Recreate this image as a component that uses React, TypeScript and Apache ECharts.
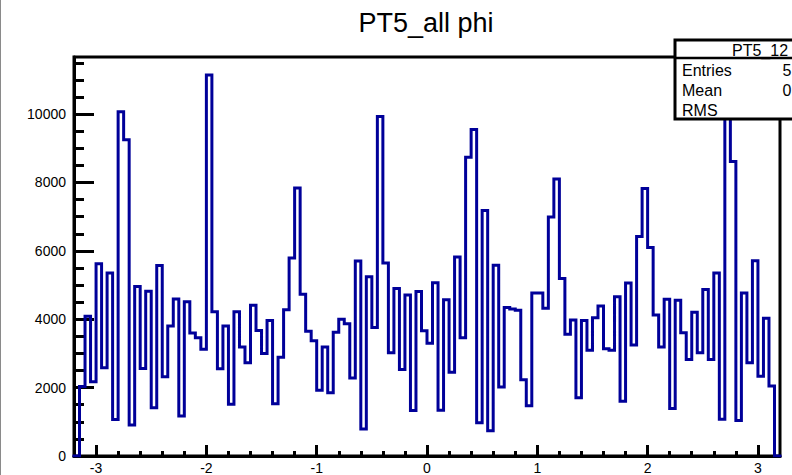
import React, { useEffect, useRef } from "react";
import * as echarts from "echarts";

const TITLE = "PT5_all phi";
const BIN_LOW = -3.2;
const BIN_WIDTH = 0.05;
// 128 bins from -3.2 to 3.2 (first and last are empty)
const COUNTS = [
  0,
  2030, 4090, 2170, 5620, 2580, 5350, 1070, 10070, 9250, 910,
  4960, 2560, 4820, 1410, 5570, 2320, 3800, 4590, 1170, 4510,
  3600, 3460, 3120, 11140, 4220, 2550, 3800, 1510, 4220, 3190,
  2730, 4410, 3670, 3000, 3960, 1530, 2890, 4280, 5790, 7835,
  4730, 3650, 3370, 1920, 3190, 1850, 3620, 4000, 3870, 2280,
  5700, 790, 5245, 3760, 9930, 5645, 3020, 4900, 2530, 4710,
  1330, 4810, 3660, 3300, 5070, 1340, 4570, 2450, 5820, 3460,
  8740, 9550, 975, 7180, 740, 5580, 2015, 4340, 4300, 4260,
  2230, 1470, 4770, 4770, 4320, 6990, 8100, 5195, 3560, 3980,
  1705, 3965, 3090, 4040, 4390, 3135, 3095, 4660, 1600, 5060,
  3250, 6420, 7825, 6095, 4125, 3190, 4585, 1392, 4555, 3603,
  2823, 4205, 3019, 4867, 2823, 5353, 1072, 10600, 8613, 1040,
  4771, 2726, 5713, 2336, 4030, 2044,
  0,
];
const X_MIN = -3.2;
const X_MAX = 3.2;
const Y_MIN = 0;
const Y_MAX = 11670;
const X_MAJOR = [-3, -2, -1, 0, 1, 2, 3];
const X_MINOR = [
  -2.8, -2.6, -2.4, -2.2, -1.8, -1.6, -1.4, -1.2, -0.8, -0.6, -0.4, -0.2,
  0.2, 0.4, 0.6, 0.8, 1.2, 1.4, 1.6, 1.8, 2.2, 2.4, 2.6, 2.8,
];
const Y_MAJOR = [0, 2000, 4000, 6000, 8000, 10000];
const Y_MINOR = [
  500, 1000, 1500, 2500, 3000, 3500, 4500, 5000, 5500, 6500, 7000, 7500,
  8500, 9000, 9500, 10500, 11000, 11500,
];
const STATS_NAME = "PT5_12";
const STATS_ROWS = ["Entries", "Mean", "RMS"];
const STATS_VALUES = ["5", "0", ""];

const FONT = "'Liberation Sans', Arial, Helvetica, sans-serif";

export default function App() {
  const ref = useRef<HTMLDivElement>(null);
  useEffect(() => {
    if (!ref.current) return;
    const chart = echarts.init(ref.current, undefined, { renderer: "svg" });
    const data: number[][] = COUNTS.map((c, i) => [BIN_LOW + i * BIN_WIDTH, c]);
    data.push([BIN_LOW + COUNTS.length * BIN_WIDTH, COUNTS[COUNTS.length - 1]]);

    const gridLeft = 74;
    const gridTop = 57;
    const gridRight = 12;
    const gridBottom = 18;

    const statsX = 675;
    const statsY = 40;
    const rowYs = [70, 90, 110];
    const graphics: any[] = [
      {
        type: "line",
        shape: { x1: 0.5, y1: 0, x2: 0.5, y2: 475 },
        style: { stroke: "#8a8a8a", lineWidth: 1 },
        z: 100,
      },
      {
        type: "text",
        x: 426,
        y: 23,
        style: {
          text: TITLE,
          font: `27px ${FONT}`,
          fill: "#000",
          textAlign: "center",
          textVerticalAlign: "middle",
        },
        z: 100,
      },
      {
        type: "rect",
        shape: { x: statsX, y: statsY, width: 140, height: 79 },
        style: { fill: "#fff", stroke: "#000", lineWidth: 3 },
        z: 100,
      },
      {
        type: "line",
        shape: { x1: statsX, y1: 58, x2: 792, y2: 58 },
        style: { stroke: "#000", lineWidth: 2.5 },
        z: 101,
      },
      {
        type: "text",
        x: 732,
        y: 50,
        style: {
          text: STATS_NAME,
          font: `16px ${FONT}`,
          fill: "#000",
          textAlign: "left",
          textVerticalAlign: "middle",
        },
        z: 101,
      },
    ];
    STATS_ROWS.forEach((r, i) => {
      graphics.push({
        type: "text",
        x: 682,
        y: rowYs[i],
        style: {
          text: r,
          font: `16px ${FONT}`,
          fill: "#000",
          textAlign: "left",
          textVerticalAlign: "middle",
        },
        z: 101,
      });
      if (STATS_VALUES[i]) {
        graphics.push({
          type: "text",
          x: 782.5,
          y: rowYs[i],
          style: {
            text: STATS_VALUES[i],
            font: `16px ${FONT}`,
            fill: "#000",
            textAlign: "left",
            textVerticalAlign: "middle",
          },
          z: 101,
        });
      }
    });

    chart.setOption({
      animation: false,
      backgroundColor: "#fff",
      grid: {
        left: gridLeft,
        top: gridTop,
        right: gridRight,
        bottom: gridBottom,
        show: true,
        borderColor: "#000",
        borderWidth: 3,
        backgroundColor: "transparent",
      },
      xAxis: [
        {
          type: "value",
          min: X_MIN,
          max: X_MAX,
          position: "bottom",
          splitLine: { show: false },
          axisLine: { show: true, onZero: false, lineStyle: { color: "#000", width: 3 } },
          axisTick: {
            show: true,
            inside: true,
            length: 11,
            customValues: X_MAJOR,
            lineStyle: { color: "#000", width: 3 },
          },
          axisLabel: {
            show: true,
            customValues: X_MAJOR,
            margin: 5,
            color: "#000",
            fontSize: 14,
            fontFamily: FONT,
            formatter: (v: number) => String(Math.round(v)),
          },
        },
        {
          type: "value",
          min: X_MIN,
          max: X_MAX,
          position: "bottom",
          splitLine: { show: false },
          axisLine: { show: false, onZero: false },
          axisTick: {
            show: true,
            inside: true,
            length: 5,
            customValues: X_MINOR,
            lineStyle: { color: "#000", width: 3 },
          },
          axisLabel: { show: false },
        },
      ],
      yAxis: [
        {
          type: "value",
          min: Y_MIN,
          max: Y_MAX,
          position: "left",
          splitLine: { show: false },
          axisLine: { show: true, onZero: false, lineStyle: { color: "#000", width: 3 } },
          axisTick: {
            show: true,
            inside: true,
            length: 20,
            customValues: Y_MAJOR,
            lineStyle: { color: "#000", width: 3 },
          },
          axisLabel: {
            show: true,
            customValues: Y_MAJOR,
            margin: 8,
            color: "#000",
            fontSize: 14,
            fontFamily: FONT,
            formatter: (v: number) => String(Math.round(v)),
          },
        },
        {
          type: "value",
          min: Y_MIN,
          max: Y_MAX,
          position: "left",
          splitLine: { show: false },
          axisLine: { show: false, onZero: false },
          axisTick: {
            show: true,
            inside: true,
            length: 10,
            customValues: Y_MINOR,
            lineStyle: { color: "#000", width: 3 },
          },
          axisLabel: { show: false },
        },
      ],
      series: [
        {
          type: "line",
          xAxisIndex: 0,
          yAxisIndex: 0,
          data,
          step: "end",
          symbol: "none",
          clip: true,
          lineStyle: { color: "#000099", width: 3, join: "miter", cap: "square" },
          z: 5,
        },
      ],
      graphic: graphics,
    });
    return () => chart.dispose();
  }, []);
  return (
    <div
      ref={ref}
      style={{ position: "fixed", left: 0, top: 0, width: 792, height: 475 }}
    />
  );
}
